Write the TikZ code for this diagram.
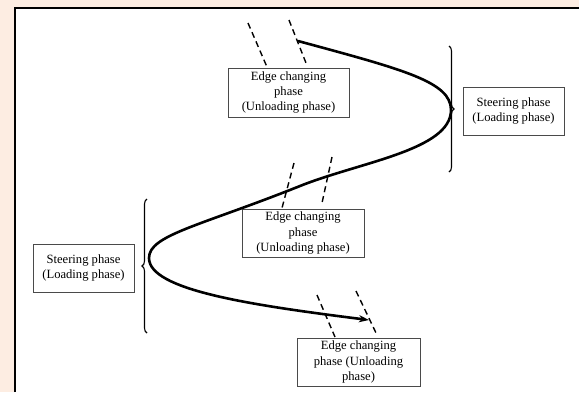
\documentclass[tikz,border=0pt]{standalone}
\usepackage{fontspec}
\setmainfont{Liberation Serif}
\usetikzlibrary{arrows.meta,decorations.pathreplacing}
\definecolor{peach}{HTML}{FDEDE2}
\definecolor{boxgray}{HTML}{4A4A4A}
\tikzset{
  phasebox/.style={draw=boxgray,line width=0.9pt,fill=white,align=center,inner sep=1pt,
    font=\fontsize{12.6}{15.3}\selectfont},
  dashline/.style={line width=1.4pt,dash pattern=on 6pt off 4pt},
  mainpath/.style={line width=2.6pt},
  bracestyle/.style={line width=1.1pt,decorate,decoration={brace,amplitude=5pt}},
}
\begin{document}
\begin{tikzpicture}[x=1pt,y=-1pt]
\useasboundingbox (0,0) rectangle (579,392);
\fill[peach] (0,0) rectangle (579,392);
\fill[white] (15,7.7) rectangle (579,392);
\draw[line width=2pt] (15,392) -- (15,7.7) -- (579,7.7);

% boxes
\node[phasebox,minimum width=121pt,minimum height=49pt] (ec1) at (288.5,92.5) {Edge changing\\phase\\(Unloading phase)};
\node[phasebox,minimum width=101pt,minimum height=48pt] (st1) at (513.5,111) {Steering phase\\(Loading phase)};
\node[phasebox,minimum width=122pt,minimum height=48pt] (ec2) at (303,233) {Edge changing\\phase\\(Unloading phase)};
\node[phasebox,minimum width=101pt,minimum height=48pt] (st2) at (83.5,268) {Steering phase\\(Loading phase)};
\node[phasebox,minimum width=123pt,minimum height=48pt] (ec3) at (358.5,362) {Edge changing\\phase (Unloading\\phase)};

% curve coordinates
\coordinate (p0) at (298,41);
\coordinate (p1) at (451,110);
\coordinate (p2) at (300,186);
\coordinate (p3) at (149,258);
\coordinate (p4) at (369,320);
\draw[mainpath,-{Stealth[length=10pt,width=7pt,inset=3pt]}]
  (p0) .. controls (405,70) and (451,82) .. (p1)
       .. controls (451,150) and (360,162) .. (p2)
       .. controls (200,226) and (149,235) .. (p3)
       .. controls (149,290) and (250,305) .. (p4);

% dashed lines
\coordinate (d1a) at (248,23); \coordinate (d1b) at (267,67);
\coordinate (d2a) at (289,20); \coordinate (d2b) at (306,63);
\coordinate (d3a) at (294,163); \coordinate (d3b) at (282,208);
\coordinate (d4a) at (332,157); \coordinate (d4b) at (322,203);
\coordinate (d5a) at (317,295); \coordinate (d5b) at (335,337);
\coordinate (d6a) at (356,291); \coordinate (d6b) at (377,335);
\draw[dashline] (d1a) -- (d1b);
\draw[dashline] (d2a) -- (d2b);
\draw[dashline] (d3a) -- (d3b);
\draw[dashline] (d4a) -- (d4b);
\draw[dashline] (d5a) -- (d5b);
\draw[dashline] (d6a) -- (d6b);

% braces
\coordinate (b1a) at (449,46); \coordinate (b1b) at (449,172);
\coordinate (b2a) at (147,333); \coordinate (b2b) at (147,199);
\draw[bracestyle] (b1a) -- (b1b);
\draw[bracestyle] (b2a) -- (b2b);
\end{tikzpicture}
\end{document}
